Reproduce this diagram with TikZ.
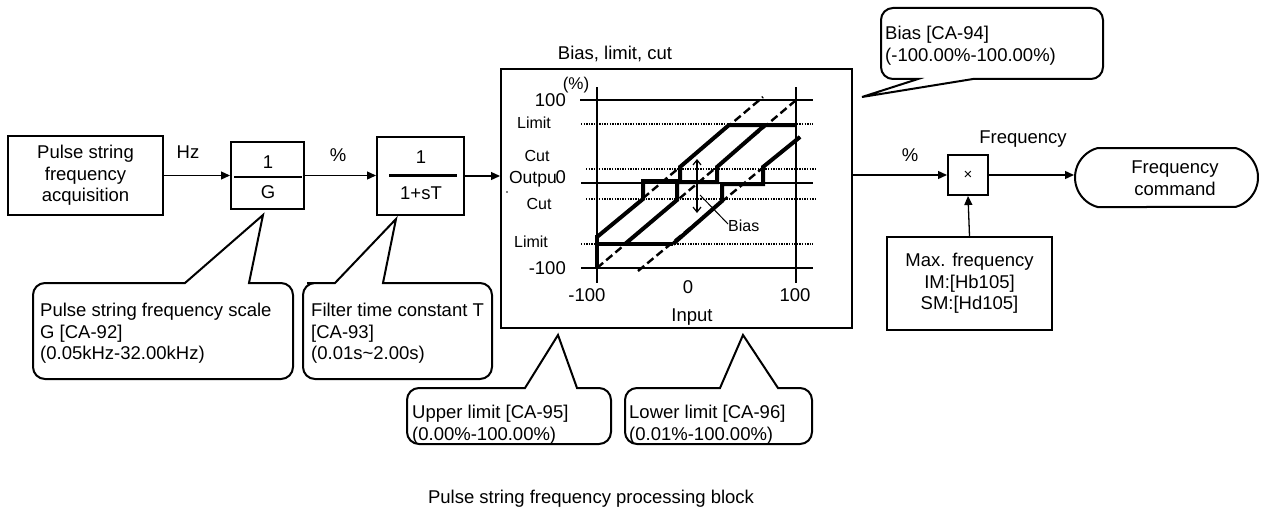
\documentclass[tikz,border=0pt]{standalone}
\usepackage{fontspec}
\setmainfont{Liberation Sans}
\usetikzlibrary{arrows.meta,shapes.misc}

\tikzset{
  fs/.style={font=\fontsize{18.5}{21.5}\selectfont},
  blk/.style={draw, line width=2pt, inner sep=0pt, align=center, fs},
  lbl/.style={inner sep=0pt, fs, text height=13.2pt, text depth=0pt},
  sml/.style={inner sep=0pt, font=\fontsize{16}{19}\selectfont, text height=11.5pt, text depth=0pt},
  arr/.style={line width=1.3pt, -{Triangle[length=9pt,width=8pt]}},
  callbox/.style={draw, line width=2pt, fill=white},
  ctext/.style={inner sep=0pt, align=left, anchor=north west, fs},
  axisl/.style={line width=2.2pt},
  dotl/.style={line width=1.6pt, dash pattern=on 1.3pt off 1.3pt},
  dashl/.style={line width=2.4pt, dash pattern=on 8pt off 4pt},
  curvel/.style={line width=4pt, line join=miter},
  barb/.style={line width=1.2pt, {Straight Barb[length=5pt,width=8pt]}-{Straight Barb[length=5pt,width=8pt]}},
}

% callout with pointer on the top edge: x1 y1 x2 y2 b1x b2x tipx tipy
\newcommand{\calltop}[8]{%
  \draw[callbox] (#7,#8) -- (#6,#2) -- ({(#6+#3)/2},#2) [rounded corners=12pt]
    -- (#3,#2) -- (#3,#4) -- (#1,#4) -- (#1,#2) -- ({(#1+#5)/2},#2) [sharp corners]
    -- (#5,#2) -- cycle;}
% callout with pointer on the bottom edge: x1 y1 x2 y2 b1x b2x tipx tipy
\newcommand{\callbot}[8]{%
  \draw[callbox] (#7,#8) -- (#5,#4) -- ({(#1+#5)/2},#4) [rounded corners=12pt]
    -- (#1,#4) -- (#1,#2) -- (#3,#2) -- (#3,#4) -- ({(#6+#3)/2},#4) [sharp corners]
    -- (#6,#4) -- cycle;}

\begin{document}
\begin{tikzpicture}[x=1pt,y=-1pt]
\useasboundingbox (0,0) rectangle (1261,511);

% ---------- blocks ----------
\node[blk, minimum width=155pt, minimum height=79pt] (acq) at (85.5,175.5)
  {Pulse string\\frequency\\acquisition};

\node[blk, minimum width=73pt, minimum height=67pt] (g) at (267.5,175.5) {};
\coordinate (gl) at (234,177);
\coordinate (gr) at (302,177);
\draw[line width=2pt] (gl) -- (gr);
\node[lbl] (gnum) at (268,162) {1};
\node[lbl] (gden) at (268,192) {G};

\node[blk, minimum width=87pt, minimum height=78pt] (filt) at (420.5,176) {};
\coordinate (fl) at (389,175);
\coordinate (fr) at (457,175);
\draw[line width=3pt] (fl) -- (fr);
\node[lbl] (fnum) at (421,157) {1};
\node[lbl] (fden) at (421,193) {1+sT};

\node[blk, minimum width=351pt, minimum height=259pt] (gb) at (676.5,198.5) {};
\node[lbl] (title) at (615,53) {Bias, limit, cut};

\node[blk, minimum width=40pt, minimum height=40pt, font=\fontsize{15}{15}\selectfont] (mul) at (968,175) {×};
\node[draw, line width=2pt, rounded rectangle, rounded rectangle arc length=150,
      minimum width=183pt, minimum height=59pt, inner sep=0pt] (cmd) at (1166.5,177.5) {};
\node[inner sep=0pt, align=center, fs] (cmdt) at (1175,178) {Frequency\\command};

\node[blk, minimum width=165pt, minimum height=93pt] (max) at (969.5,283.5)
  {Max. frequency\\IM:[Hb105]\\SM:[Hd105]};

% ---------- connectors ----------
\draw[arr] (acq.east) -- (g.west);
\draw[arr] (g.east) -- (g.east -| filt.west);
\draw[arr] (filt.east) -- (filt.east -| gb.west);
\draw[arr] (gb.east |- mul.west) -- (mul.west);
\draw[arr] (mul.east) -- (mul.east -| cmd.west);
\draw[arr] (max.north) -- (mul.south);

\node[lbl] (hz) at (188,152) {Hz};
\node[lbl] (pc1) at (338,155) {\%};
\node[lbl] (pc2) at (910,155) {\%};
\node[lbl] (freq) at (1023,137) {Frequency};

% ---------- graph ----------
\draw[axisl] (580,100) -- (813,100);
\draw[axisl] (581,183) -- (813,183);
\draw[axisl] (581,268) -- (813,268);
\draw[axisl] (597,87) -- (597,283);
\draw[axisl] (796,87) -- (796,283);

\draw[dotl] (581,124) -- (813,124);
\draw[dotl] (586,169) -- (817,169);
\draw[dotl] (586,199) -- (817,199);
\draw[dotl] (581,244) -- (813,244);

\draw[dashl] (597,237) -- (763,97);
\draw[dashl] (597,268) -- (795,101);
\draw[dashl] (638,271) -- (800,137);

\draw[curvel] (597,237) -- (643,199) -- (643,181) -- (680,181) -- (680,167) -- (729,125) -- (796,125);
\draw[curvel] (625,244) -- (677,200) -- (677,182) -- (717,182) -- (717,167) -- (765,125);
\draw[curvel] (673,244) -- (722,201) -- (722,184) -- (763,184) -- (763,167) -- (800,137);
\draw[curvel] (597,268) -- (597,235);
\draw[curvel] (597,244) -- (673,244);

\draw[barb] (697,159) -- (697,213);
\draw[line width=1pt] (700,195) -- (728,224);
\node[sml, anchor=west] (biasl) at (728,226) {Bias};

\node[inner sep=0pt, font=\fontsize{17}{17}\selectfont, text height=12pt, text depth=0pt] (pct) at (576,83) {(\%)};
\node[lbl, anchor=east] (y100) at (566,100) {100};
\node[sml] (lim1) at (534,123) {Limit};
\node[sml] (cut1) at (537,156) {Cut};
\node[inner sep=0pt, font=\fontsize{17.5}{17.5}\selectfont, text height=12.5pt, text depth=0pt, anchor=east] (outp) at (557,177) {Outpu};
\node[lbl, anchor=east] (y0) at (566,177) {0};
\fill (507,192) circle (0.8pt);
\node[sml] (cut2) at (539,204) {Cut};
\node[sml] (lim2) at (531,242) {Limit};
\node[lbl, anchor=east] (ym100) at (566,268) {-100};
\node[lbl] (xm100) at (587,295) {-100};
\node[lbl] (x0) at (688,287) {0};
\node[lbl] (x100) at (795,295) {100};
\node[lbl] (xin) at (692,315) {Input};

% ---------- callouts ----------
\calltop{33}{283}{293}{379}{185}{249}{263}{215}
\node[ctext] (cg) at (40,303) {Pulse string frequency scale\\G [CA-92]\\(0.05kHz-32.00kHz)};

\calltop{303}{283}{492}{379}{335}{383}{396}{219}
\node[ctext] (cf) at (311,303) {Filter time constant T\\{}[CA-93]\\(0.01s\textasciitilde 2.00s)};

\calltop{407}{388}{611}{444}{525}{577}{558}{335}
\node[ctext] (cu) at (412,405) {Upper limit [CA-95]\\(0.00\%-100.00\%)};

\calltop{625}{388}{812}{444}{720}{778}{743}{335}
\node[ctext] (cl) at (629,405) {Lower limit [CA-96]\\(0.01\%-100.00\%)};

\callbot{881}{8}{1103}{79}{918}{973}{862}{97}
\node[ctext] (cb) at (885,26) {Bias [CA-94]\\(-100.00\%-100.00\%)};

% ---------- caption ----------
\node[lbl] (cap) at (591,497) {Pulse string frequency processing block};
\end{tikzpicture}
\end{document}
